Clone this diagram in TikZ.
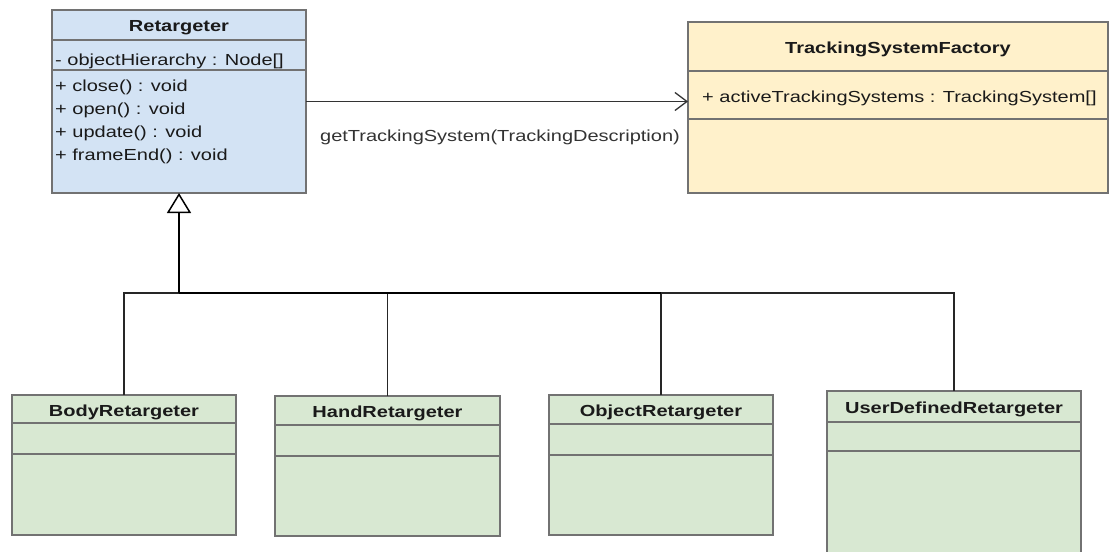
\documentclass[tikz,border=0pt]{standalone}
\usepackage{fontspec}
\setmainfont{Liberation Sans}[FakeStretch=1.25]
\usetikzlibrary{arrows.meta}
\definecolor{bluefill}{HTML}{D3E3F4}
\definecolor{yellowfill}{HTML}{FFF1CB}
\definecolor{greenfill}{HTML}{D8E8D2}
\definecolor{boxline}{HTML}{727272}
\definecolor{txt}{HTML}{1A1A1A}
\definecolor{lbl}{HTML}{333333}
\begin{document}
\begin{tikzpicture}[x=1pt,y=-1pt,
  classbox/.style={draw=boxline,line width=2.4pt,anchor=north west,inner sep=0pt,outer sep=0pt},
  sepline/.style={draw=boxline,line width=2.4pt},
  titletext/.style={anchor=base,inner sep=0pt,font=\fontsize{16}{19}\selectfont\bfseries,text=txt},
  membertext/.style={anchor=base west,inner sep=0pt,font=\fontsize{16}{19}\selectfont,text=txt},
  labeltext/.style={anchor=base,inner sep=0pt,font=\fontsize{16}{19}\selectfont,text=lbl},
  conn/.style={draw=black!85,line width=1.1pt},
  thickconn/.style={draw=black,line width=2.6pt},
]
\useasboundingbox (0,0) rectangle (1110,551);

% Retargeter
\node[classbox,fill=bluefill,minimum width=254pt,minimum height=183pt] (ret) at (52,10) {};
\draw[sepline] (52,40) -- (306,40);
\draw[sepline] (52,70) -- (306,70);
\node[titletext] (retT) at (179,32) {Retargeter};
\node[membertext] (retA) at (55,65) {- objectHierarchy : Node[]};
\node[membertext] (retM1) at (55,92) {+ close() : void};
\node[membertext] (retM2) at (55,114) {+ open() : void};
\node[membertext] (retM3) at (55,137) {+ update() : void};
\node[membertext] (retM4) at (55,160) {+ frameEnd() : void};

% TrackingSystemFactory
\node[classbox,fill=yellowfill,minimum width=420pt,minimum height=171pt] (fac) at (688,22) {};
\draw[sepline] (688,71) -- (1108,71);
\draw[sepline] (688,119) -- (1108,119);
\node[titletext] (facT) at (898,53) {TrackingSystemFactory};
\node[membertext] (facA) at (702,102) {+ activeTrackingSystems : TrackingSystem[]};

% association
\draw[conn,draw=black!80,line width=1.3pt,-{Straight Barb[length=12pt,width=18pt]}] (ret.east) -- (ret.east -| fac.west);
\node[labeltext] (lab) at (500,141) {getTrackingSystem(TrackingDescription)};

% subclasses
\node[classbox,fill=greenfill,minimum width=224pt,minimum height=140pt] (body) at (12,395) {};
\draw[sepline] (12,423) -- (236,423);
\draw[sepline] (12,454) -- (236,454);
\node[titletext] (bodyT) at (124,416) {BodyRetargeter};

\node[classbox,fill=greenfill,minimum width=225pt,minimum height=140pt] (hand) at (275,396) {};
\draw[sepline] (275,425) -- (500,425);
\draw[sepline] (275,456) -- (500,456);
\node[titletext] (handT) at (387.5,417) {HandRetargeter};

\node[classbox,fill=greenfill,minimum width=224pt,minimum height=140pt] (obj) at (549,395) {};
\draw[sepline] (549,424) -- (773,424);
\draw[sepline] (549,455) -- (773,455);
\node[titletext] (objT) at (661,416) {ObjectRetargeter};

\node[classbox,fill=greenfill,minimum width=254pt,minimum height=170pt] (user) at (827,391) {};
\draw[sepline] (827,422) -- (1081,422);
\draw[sepline] (827,451) -- (1081,451);
\node[titletext] (userT) at (954,413) {UserDefinedRetargeter};

% generalization
\coordinate (junc) at (179,293);
\draw[conn] (body.north) |- (junc);
\draw[conn] (hand.north) |- (junc);
\draw[conn] (obj.north) |- (junc);
\draw[conn] (user.north) |- (junc);
\draw[thickconn] (obj.north |- junc) -- (junc);
\draw[thickconn,-{Triangle[open,length=20pt,width=24pt,line width=1.5pt]}] (junc) -- (ret.south);
\end{tikzpicture}
\end{document}
